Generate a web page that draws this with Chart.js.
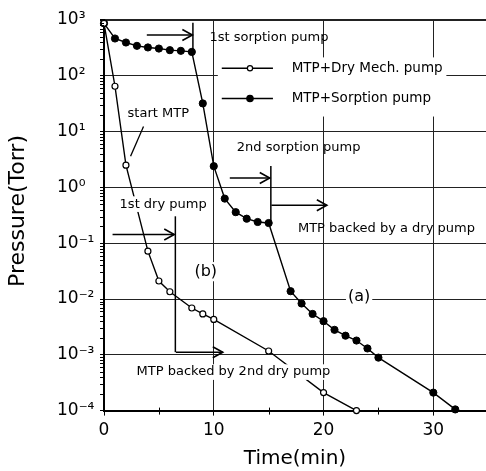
<!DOCTYPE html>
<html><head><meta charset="utf-8">
<script src="https://cdn.jsdelivr.net/npm/chart.js@4.4.0/dist/chart.umd.min.js"></script>
<style>html,body{margin:0;padding:0;background:#fff;overflow:hidden}</style>
</head><body>
<canvas id="c" width="486" height="471"></canvas>
<script>
// ---- data ----
const timesDry = [0, 1, 2, 4, 5, 6, 8, 9, 10, 15, 20, 23];
const pressureDry = [870, 65, 2.5, 0.072, 0.021, 0.0135, 0.0069, 0.0054, 0.0043, 0.00117, 0.00021, 0.0001];
const timesSorp = [0, 1, 2, 3, 4, 5, 6, 7, 8, 9, 10, 11, 12, 13, 14, 15, 17, 18, 19, 20, 21, 22, 23, 24, 25, 30, 32];
const pressureSorp = [870, 466, 395, 344, 322, 308, 288, 280, 268, 32, 2.4, 0.63, 0.36, 0.275, 0.24, 0.23,
  0.0138, 0.0083, 0.0054, 0.004, 0.0028, 0.0022, 0.0018, 0.0013, 0.00089, 0.00021, 0.000105];
const seriesNames = ['MTP+Dry Mech. pump', 'MTP+Sorption pump'];
const xTicks = [0, 10, 20, 30];
const yTicks = [1e-4, 1e-3, 1e-2, 1e-1, 1, 10, 100, 1000];
const xTitle = 'Time(min)';
const yTitle = 'Pressure(Torr)';

const SUP = {'-':'\u207B','0':'\u2070','1':'\u00B9','2':'\u00B2','3':'\u00B3','4':'\u2074','5':'\u2075','6':'\u2076','7':'\u2077','8':'\u2078','9':'\u2079'};
const sup = n => String(n).split('').map(c => SUP[c]).join('');
const FONT = 'DejaVu Sans';

const annot = {
  id: 'annot',
  afterDatasetsDraw(chart) {
    const {ctx, chartArea: a, scales: {x, y}} = chart;
    const X = t => x.getPixelForValue(t);
    const Y = l => y.getPixelForValue(Math.pow(10, l));
    ctx.save();
    ctx.strokeStyle = '#000';
    ctx.fillStyle = '#000';
    // minor ticks on y axis (outside)
    ctx.lineWidth = 1;
    for (let e = -4; e < 3; e++) {
      for (let k = 2; k <= 9; k++) {
        const py = Math.round(Y(e + Math.log10(k))) + 0.5;
        ctx.beginPath(); ctx.moveTo(a.left - 4, py); ctx.lineTo(a.left, py); ctx.stroke();
      }
    }
    // minor ticks on x axis
    [5, 15, 25].forEach(t => {
      const px = Math.round(X(t)) + 0.5;
      ctx.beginPath(); ctx.moveTo(px, a.bottom - 3); ctx.lineTo(px, a.bottom + 4); ctx.stroke();
    });

    const text = (s, t, l, size, bg, align) => {
      ctx.font = size + 'px "' + FONT + '"';
      ctx.textBaseline = 'middle';
      ctx.textAlign = align || 'left';
      const w = ctx.measureText(s).width;
      let x0 = X(t);
      if (align === 'center') x0 -= w / 2;
      if (bg) { ctx.fillStyle = '#fff'; ctx.fillRect(x0 - 2, Y(l) - size * 0.6, w + 4, size * 1.2); }
      ctx.fillStyle = '#000';
      ctx.fillText(s, X(t), Y(l));
    };
    const line = (t1, l1, t2, l2, w) => {
      ctx.lineWidth = w || 1.5;
      ctx.beginPath(); ctx.moveTo(X(t1), Y(l1)); ctx.lineTo(X(t2), Y(l2)); ctx.stroke();
    };
    const arrow = (t1, t2, l) => {
      line(t1, l, t2, l, 1.6);
      const px = X(t2), py = Y(l);
      ctx.lineWidth = 1.6;
      ctx.beginPath(); ctx.moveTo(px - 10, py - 5.5); ctx.lineTo(px, py); ctx.lineTo(px - 10, py + 5.5); ctx.stroke();
    };

    // legend (white box over grid)
    ctx.fillStyle = '#fff';
    ctx.fillRect(X(10.37), Y(2.33), X(31.19) - X(10.37), Y(1.27) - Y(2.33));
    const ds = chart.data.datasets;
    [[2.134, 0], [1.593, 1]].forEach(([l, i]) => {
      line(10.73, l, 15.39, l, 1.4);
      ctx.beginPath();
      ctx.arc(X(13.3), Y(l), i === 0 ? 2.6 : 3.2, 0, Math.PI * 2);
      ctx.fillStyle = ds[i].pointBackgroundColor; ctx.fill();
      ctx.lineWidth = 1.2; ctx.stroke();
      text(seriesNames[i], 17.1, l, 13.5, false);
    });

    // 1st sorption pump
    arrow(3.9, 8.05, 2.73);
    line(8.1, 2.95, 8.1, 2.42, 1.5);
    text('1st sorption pump', 9.6, 2.69, 13, false);
    // start MTP
    text('start MTP', 2.15, 1.32, 13, false);
    line(3.6, 1.09, 2.42, 0.56, 1.3);
    // 2nd sorption pump
    text('2nd sorption pump', 12.1, 0.709, 13, false);
    arrow(11.46, 15.1, 0.168);
    line(15.2, 0.384, 15.2, -0.608, 1.5);
    arrow(15.25, 20.3, -0.32);
    text('MTP backed by a dry pump', 17.67, -0.734, 13, false);
    // 1st dry pump
    text('1st dry pump', 1.42, -0.30, 13, true);
    arrow(0.78, 6.4, -0.843);
    line(6.5, -0.518, 6.5, -2.953, 1.5);
    arrow(6.55, 10.82, -2.953);
    text('MTP backed by 2nd dry pump', 2.97, -3.31, 13, true);
    // curve labels
    text('(b)', 9.27, -1.51, 16, true, 'center');
    text('(a)', 23.24, -1.96, 16, true, 'center');

    // y axis title
    ctx.save();
    ctx.translate(18, 211);
    ctx.rotate(-Math.PI / 2);
    ctx.font = '22px "' + FONT + '"';
    ctx.textAlign = 'center'; ctx.textBaseline = 'middle';
    ctx.fillStyle = '#000';
    ctx.fillText(yTitle, 0, 0);
    ctx.restore();
    ctx.restore();
  }
};

new Chart(document.getElementById('c'), {
  type: 'line',
  data: {
    datasets: [
      {label: seriesNames[0], data: timesDry.map((t, i) => ({x: t, y: pressureDry[i]})),
       borderColor: '#000', borderWidth: 1.4, pointRadius: 3, pointBackgroundColor: '#fff',
       pointBorderColor: '#000', pointBorderWidth: 1.2, tension: 0, clip: 8},
      {label: seriesNames[1], data: timesSorp.map((t, i) => ({x: t, y: pressureSorp[i]})),
       borderColor: '#000', borderWidth: 1.4, pointRadius: 3.6, pointBackgroundColor: '#000',
       pointBorderColor: '#000', pointBorderWidth: 1, tension: 0, clip: 8}
    ]
  },
  options: {
    responsive: false, animation: false, devicePixelRatio: 1,
    layout: {autoPadding: false, padding: {left: 57, top: 20, right: 0, bottom: 0}},
    plugins: {legend: {display: false}, tooltip: {enabled: false}},
    scales: {
      x: {
        type: 'linear', min: 0, max: 34.8,
        afterBuildTicks: s => { s.ticks = xTicks.map(v => ({value: v})); },
        ticks: {font: {family: FONT, size: 17}, color: '#000', padding: 5, maxRotation: 0, autoSkip: false},
        grid: {color: c => (c.tick && c.tick.value === 0) ? 'rgba(0,0,0,0)' : '#222', lineWidth: 1, tickLength: 5, tickColor: '#000'},
        border: {color: '#000', width: 2},
        title: {display: true, text: xTitle, font: {family: FONT, size: 20}, color: '#000', padding: {top: 1, bottom: 0}}
      },
      y: {
        type: 'logarithmic', min: 1e-4, max: 1e3,
        afterBuildTicks: s => { s.ticks = yTicks.map(v => ({value: v, major: true})); },
        afterFit: s => { s.width = 47; },
        ticks: {crossAlign: 'far', font: {family: FONT, size: 17}, color: '#000', padding: 6, autoSkip: false,
                callback: v => '10' + sup(Math.round(Math.log10(v)))},
        grid: {color: '#222', lineWidth: c => (c.tick && c.tick.value === 1000) ? 2 : 1, tickLength: 4, tickColor: '#000'},
        border: {color: '#000', width: 2}
      }
    }
  },
  plugins: [annot]
});
</script>
</body></html>
